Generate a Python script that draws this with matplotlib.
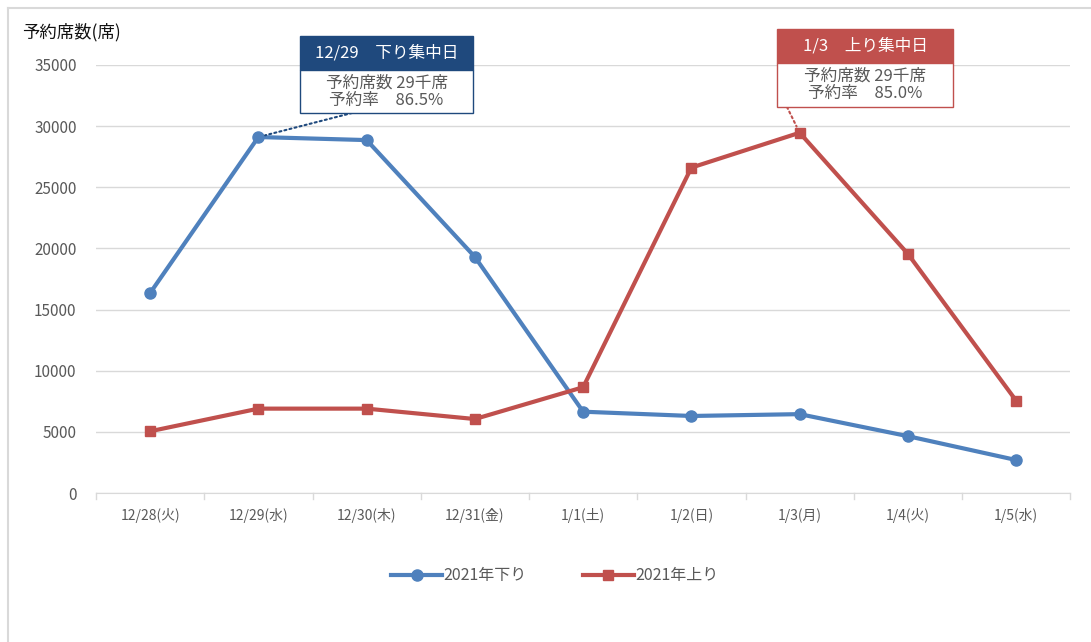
import matplotlib
matplotlib.use("Agg")
import matplotlib.pyplot as plt
from matplotlib.patches import Rectangle
from matplotlib.lines import Line2D

plt.rcParams['font.family'] = ['Noto Sans CJK JP', 'DejaVu Sans']

categories = ["12/28(火)", "12/29(水)", "12/30(木)", "12/31(金)", "1/1(土)",
              "1/2(日)", "1/3(月)", "1/4(火)", "1/5(水)"]
down_2021 = [16350, 29100, 28850, 19300, 6650, 6300, 6450, 4650, 2700]
up_2021 = [5050, 6900, 6900, 6050, 8650, 26600, 29450, 19550, 7550]
yticks = [0, 5000, 10000, 15000, 20000, 25000, 30000, 35000]

BLUE = "#4F81BD"
RED = "#C0504D"
NAVY = "#1F497D"
GRAY = "#595959"

fig = plt.figure(figsize=(10.91, 6.42), dpi=100)
ax = fig.add_axes([0.088, 0.232, 0.893, 0.667])

x = list(range(len(categories)))
ax.plot(x, down_2021, color=BLUE, lw=3, marker='o', ms=8, label="2021年下り", zorder=3)
ax.plot(x, up_2021, color=RED, lw=3, marker='s', ms=7.5, label="2021年上り", zorder=3)

ax.set_xlim(-0.5, len(categories) - 0.5)
ax.set_ylim(0, 35000)
ax.set_yticks(yticks)
ax.set_yticklabels([str(v) for v in yticks], fontsize=11, color=GRAY)
ax.set_xticks(x)
ax.set_xticklabels(categories, fontsize=10, color=GRAY)
ax.tick_params(axis='y', length=0, pad=14)
ax.tick_params(axis='x', length=0, pad=11)
# category separator ticks
for b in [i - 0.5 for i in range(len(categories) + 1)]:
    ax.plot([b, b], [0, -500], color="#D9D9D9", lw=1, clip_on=False, zorder=1)
ax.grid(axis='y', color="#D9D9D9", lw=1)
ax.set_axisbelow(True)
for s in ['top', 'right', 'left']:
    ax.spines[s].set_visible(False)
ax.spines['bottom'].set_color("#D9D9D9")

fig.text(0.02, 0.95, "予約席数(席)", fontsize=12.5, color="#111111", ha='left', va='center')

leg = ax.legend(loc='upper center', bbox_to_anchor=(0.471, -0.14), ncol=2, frameon=False,
                fontsize=11.5, labelcolor=GRAY, columnspacing=3.5, handlelength=3.2,
                handletextpad=0.1)

def callout(x0, y0, w, hh, bh, header_color, header, body, border, pt, anchor):
    # pixel coords (top-left origin) -> figure fraction
    W, H = 1091, 642
    fig.patches.append(Rectangle((x0 / W, 1 - (y0 + hh) / H), w / W, hh / H,
                                 transform=fig.transFigure, facecolor=header_color,
                                 edgecolor=header_color, zorder=5))
    fig.patches.append(Rectangle((x0 / W, 1 - (y0 + hh + bh) / H), w / W, bh / H,
                                 transform=fig.transFigure, facecolor='white',
                                 edgecolor=border, lw=1, zorder=5))
    fig.text((x0 + w / 2) / W, 1 - (y0 + hh / 2) / H, header, color='white',
             fontsize=12, ha='center', va='center', zorder=6)
    fig.text((x0 + w / 2) / W, 1 - (y0 + hh + bh / 2) / H, body, color=GRAY,
             fontsize=12, ha='center', va='center', linespacing=1.0, zorder=6)
    # dotted connector
    ax.annotate("", xy=pt, xycoords='data',
                xytext=(anchor[0] / W, 1 - anchor[1] / H), textcoords='figure fraction',
                arrowprops=dict(arrowstyle='-', color=border, lw=1.5, ls=(0, (1, 1.5)),
                                shrinkA=0, shrinkB=5), zorder=4)

callout(300, 36, 173, 34, 43, NAVY, "12/29　下り集中日",
        "予約席数 29千席\n予約率　86.5%", NAVY, (1, down_2021[1]), (352, 113))
callout(777, 29, 176, 34, 44, RED, "1/3　上り集中日",
        "予約席数 29千席\n予約率　85.0%", RED, (6, up_2021[6]), (787, 107))

# outer frame
fig.add_artist(Line2D([8 / 1091, 8 / 1091], [0, 1 - 8 / 642], color="#D9D9D9", lw=1.5,
                      transform=fig.transFigure))
fig.add_artist(Line2D([8 / 1091, 1], [1 - 8 / 642, 1 - 8 / 642], color="#D9D9D9", lw=1.5,
                      transform=fig.transFigure))

fig.savefig("out.png", dpi=100)
